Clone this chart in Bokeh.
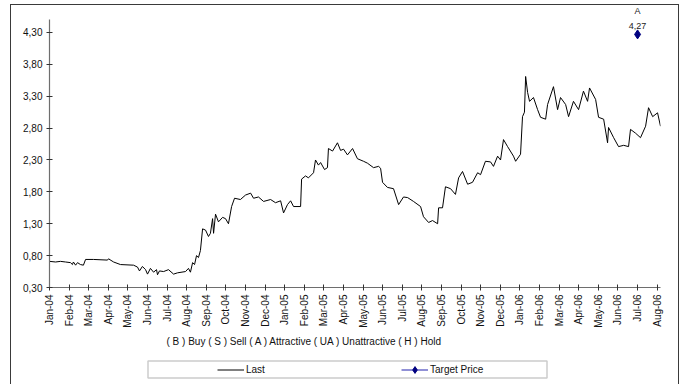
from bokeh.plotting import figure
from bokeh.layouts import column
from bokeh.models import (Range1d, FixedTicker, Label, Legend, LegendItem, BoxAnnotation, Title)
from bokeh.embed import file_html
from bokeh.resources import INLINE
import math

# ---------------- data ----------------
month_labels = ["Jan-04", "Feb-04", "Mar-04", "Apr-04", "May-04", "Jun-04", "Jul-04", "Aug-04",
                "Sep-04", "Oct-04", "Nov-04", "Dec-04", "Jan-05", "Feb-05", "Mar-05", "Apr-05",
                "May-05", "Jun-05", "Jul-05", "Aug-05", "Sep-05", "Oct-05", "Nov-05", "Dec-05",
                "Jan-06", "Feb-06", "Mar-06", "Apr-06", "May-06", "Jun-06", "Jul-06", "Aug-06"]

# time in months since Jan-04
last_t = [0.00, 0.31, 0.56, 0.82, 1.07, 1.17, 1.22, 1.33, 1.43, 1.58, 1.73, 1.84, 2.24, 2.96, 3.01,
          3.27, 3.62, 4.29, 4.49, 4.59, 4.74, 4.90, 5.00, 5.15, 5.31, 5.46, 5.51, 5.61, 5.82, 6.07,
          6.33, 6.53, 6.94, 7.09, 7.19, 7.30, 7.40, 7.50, 7.60, 7.70, 7.81, 7.96, 8.11, 8.21, 8.32,
          8.37, 8.47, 8.62, 8.83, 8.98, 9.13, 9.29, 9.44, 9.74, 10.00, 10.26, 10.41, 10.66, 10.92,
          11.28, 11.53, 11.79, 11.94, 12.14, 12.30, 12.45, 12.81, 12.86, 13.06, 13.21, 13.47, 13.57,
          13.72, 13.83, 14.03, 14.18, 14.23, 14.44, 14.69, 14.85, 15.00, 15.20, 15.46, 15.71, 16.02,
          16.22, 16.53, 16.79, 16.89, 16.99, 17.24, 17.55, 17.81, 18.06, 18.27, 18.57, 18.93, 19.08,
          19.34, 19.54, 19.80, 19.85, 20.05, 20.20, 20.46, 20.71, 20.87, 21.07, 21.33, 21.58, 21.84,
          21.99, 22.24, 22.50, 22.65, 22.86, 23.01, 23.16, 23.37, 23.67, 23.78, 24.03, 24.13, 24.23,
          24.29, 24.39, 24.49, 24.69, 24.90, 25.05, 25.31, 25.41, 25.71, 25.92, 26.07, 26.33, 26.48,
          26.73, 26.99, 27.24, 27.45, 27.55, 27.86, 28.01, 28.27, 28.47, 28.52, 28.78, 29.03, 29.29,
          29.54, 29.64, 29.90, 30.15, 30.41, 30.56, 30.77, 31.02, 31.17]
last_price = [0.71, 0.70, 0.71, 0.70, 0.69, 0.66, 0.70, 0.65, 0.69, 0.66, 0.65, 0.74, 0.74, 0.73, 0.75,
              0.70, 0.66, 0.65, 0.62, 0.56, 0.63, 0.58, 0.51, 0.60, 0.54, 0.58, 0.50, 0.56, 0.55, 0.58,
              0.51, 0.53, 0.55, 0.60, 0.54, 0.69, 0.66, 0.80, 0.77, 0.88, 1.22, 1.20, 1.10, 1.15, 1.38,
              1.15, 1.45, 1.33, 1.40, 1.38, 1.30, 1.57, 1.70, 1.68, 1.75, 1.78, 1.70, 1.72, 1.65,
              1.68, 1.63, 1.66, 1.47, 1.60, 1.66, 1.57, 1.57, 2.00, 2.05, 2.02, 2.10, 2.30,
              2.22, 2.26, 2.15, 2.18, 2.48, 2.44, 2.57, 2.45, 2.47, 2.38, 2.48, 2.32, 2.28,
              2.25, 2.18, 2.20, 2.17, 1.95, 1.87, 1.85, 1.60, 1.72, 1.71, 1.65, 1.57, 1.41,
              1.32, 1.35, 1.30, 1.55, 1.55, 1.88, 1.85, 1.76, 2.02, 2.12, 1.92, 1.95, 2.10,
              2.07, 2.28, 2.27, 2.20, 2.36, 2.30, 2.62, 2.51, 2.36, 2.28, 2.39, 2.98, 3.05,
              3.61, 3.36, 3.22, 3.28, 3.09, 2.97, 2.94, 3.17, 3.45, 3.09, 3.28, 3.17, 2.98,
              3.22, 3.09, 3.38, 3.22, 3.43, 3.25, 2.97, 2.94, 2.57, 2.81, 2.65, 2.51, 2.53,
              2.51, 2.78, 2.72, 2.65, 2.83, 3.12, 2.98, 3.04, 2.83]

target_t = [30.0]
target_price = [4.27]
target_rating = ["A"]

y_ticks = [0.30, 0.80, 1.30, 1.80, 2.30, 2.80, 3.30, 3.80, 4.30]
y_tick_labels = ["0,30", "0,80", "1,30", "1,80", "2,30", "2,80", "3,30", "3,80", "4,30"]
y_axis_top = 4.504

footnote = "( B ) Buy   ( S ) Sell   ( A ) Attractive   ( UA ) Unattractive   ( H ) Hold"
series_names = ["Last", "Target Price"]

FONT = "Liberation Sans"
BORDER = "1.5px solid #3a3a3a"
LAST_COLOR = "black"
TLINE_COLOR = "#6b6bc8"
TPT_COLOR = "#000080"
NAN = float("nan")

# ---------------- main chart ----------------
p = figure(width=669, height=348, output_backend="svg", toolbar_location=None,
           x_range=Range1d(0, 31.17), y_range=Range1d(0.30, 4.692),
           min_border_left=38, min_border_right=20, min_border_top=2, min_border_bottom=66,
           styles={"margin-left": "10px", "margin-top": "4px", "border-top": BORDER,
                   "border-left": BORDER, "border-right": BORDER})
p.background_fill_color = "white"
p.border_fill_color = "white"
p.outline_line_color = None
p.grid.visible = False

for ax in (p.xaxis[0], p.yaxis[0]):
    ax.axis_line_color = "#6e6e6e"
    ax.axis_line_width = 1.2
    ax.major_tick_line_color = "#333333"
    ax.major_tick_line_width = 1
    ax.major_tick_in = 3
    ax.major_tick_out = 3
    ax.minor_tick_line_color = None
    ax.major_label_text_font = FONT
    ax.major_label_text_font_size = "10px"
    ax.major_label_text_color = "#111111"

p.yaxis.ticker = FixedTicker(ticks=y_ticks)
p.yaxis.major_label_overrides = dict(zip(y_ticks, y_tick_labels))
p.yaxis.major_label_standoff = 4
p.yaxis.bounds = (y_ticks[0], y_axis_top)

x_ticks = list(range(len(month_labels)))
p.xaxis.ticker = FixedTicker(ticks=x_ticks)
p.xaxis.major_label_overrides = dict(zip(x_ticks, month_labels))
p.xaxis.major_label_orientation = math.pi / 2
p.xaxis.major_label_standoff = 4

p.add_layout(Title(text=footnote, align="left", offset=117, standoff=6,
                   text_font=FONT, text_font_size="10px", text_font_style="normal",
                   text_color="#111111"), "below")

p.line(last_t, last_price, line_color=LAST_COLOR, line_width=1)
p.line(target_t, target_price, line_color=TLINE_COLOR, line_width=1.5)
p.scatter(target_t, target_price, marker="diamond", size=9,
          fill_color=TPT_COLOR, line_color=TPT_COLOR)

for t, v, r in zip(target_t, target_price, target_rating):
    p.add_layout(Label(x=t, y=v, text=("%.2f" % v).replace(".", ","), y_offset=5,
                       text_align="center", text_baseline="bottom", text_font=FONT,
                       text_font_size="9px", text_color="#222222"))
    p.add_layout(Label(x=t, y=v, text=r, y_offset=18,
                       text_align="center", text_baseline="bottom", text_font=FONT,
                       text_font_size="9px", text_color="#222222"))

# ---------------- legend strip (frame aligned with the chart frame) ----------------
H2 = 32
FW = 611  # frame width in px, same as the chart frame
q = figure(width=669, height=H2, output_backend="svg", toolbar_location=None,
           x_range=Range1d(0, FW), y_range=Range1d(H2, 0),
           x_axis_type=None, y_axis_type=None,
           min_border_left=38, min_border_right=20, min_border_top=0, min_border_bottom=0,
           styles={"margin-left": "10px", "border-left": BORDER, "border-right": BORDER})
q.background_fill_color = "white"
q.border_fill_color = "white"
q.outline_line_color = None
q.grid.visible = False

# legend frame box (pixel units of this strip, origin at frame left/top)
q.add_layout(BoxAnnotation(left=98.5, right=497.5, top=8.5, bottom=25.5,
                           fill_alpha=0, line_color="#555555", line_width=1.5))

lr1 = q.line([NAN], [NAN], line_color=LAST_COLOR, line_width=1)
lr2 = q.line([NAN], [NAN], line_color=TLINE_COLOR, line_width=1.5)
lr3 = q.scatter([NAN], [NAN], marker="diamond", size=9, fill_color=TPT_COLOR, line_color=TPT_COLOR)
legend = Legend(items=[LegendItem(label=series_names[0], renderers=[lr1]),
                       LegendItem(label=series_names[1], renderers=[lr2, lr3])],
                orientation="horizontal", location=(168, 6), margin=0, padding=0,
                glyph_width=27, glyph_height=17, label_height=17, label_width=117,
                label_standoff=2, spacing=38,
                label_text_font=FONT, label_text_font_size="10px", label_text_color="#111111",
                border_line_color=None, background_fill_alpha=0)
q.add_layout(legend, "center")

layout = column(p, q, spacing=0)
open("out.html", "w").write(file_html(layout, INLINE))
